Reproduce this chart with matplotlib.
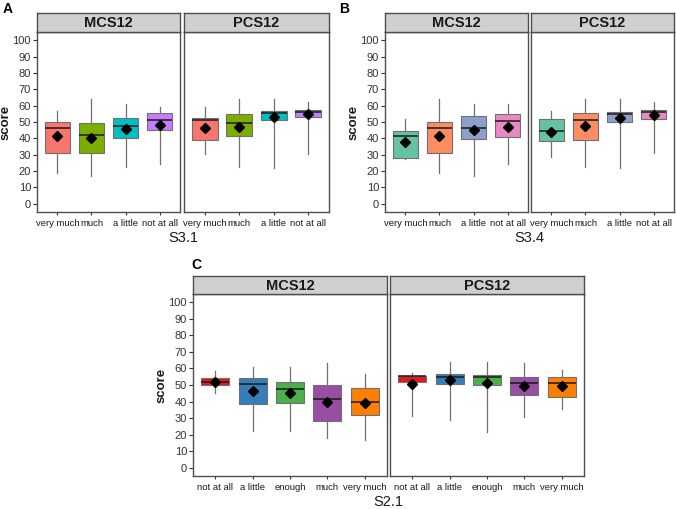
# LIBRARIES
import matplotlib
matplotlib.use("Agg")
import matplotlib.pyplot as plt

# FIGURE SIZE (pixels)
W, H = 676, 509

# DATA
# Panel A: S3.1
catsA = ["very much", "much", "a little", "not at all"]
colorsA = ["#F8766D", "#7CAE00", "#00BFC4", "#C77CFF"]
mcsA_lo = [18.7, 16.7, 22.2, 24.2]
mcsA_q1 = [30.9, 30.9, 40.0, 45.1]
mcsA_med = [46.5, 42.1, 47.8, 51.2]
mcsA_q3 = [50.2, 49.2, 52.6, 55.3]
mcsA_hi = [56.7, 64.0, 60.8, 59.3]
mcsA_mean = [41.7, 40.0, 45.5, 48.4]
pcsA_lo = [30.5, 22.8, 21.7, 30.5]
pcsA_q1 = [39.0, 41.7, 51.2, 53.3]
pcsA_med = [51.2, 49.2, 55.3, 56.3]
pcsA_q3 = [52.2, 54.9, 56.7, 57.3]
pcsA_hi = [59.0, 64.0, 64.0, 62.4]
pcsA_mean = [46.3, 47.2, 52.8, 54.9]

# Panel B: S3.4
catsB = ["very much", "much", "a little", "not at all"]
colorsB = ["#66C2A5", "#FC8D62", "#8DA0CB", "#E78AC3"]
mcsB_lo = [27.2, 18.7, 16.7, 24.4]
mcsB_q1 = [27.8, 31.3, 39.4, 41.1]
mcsB_med = [41.3, 46.5, 46.5, 50.8]
mcsB_q3 = [44.5, 50.2, 53.9, 54.9]
mcsB_hi = [51.8, 64.0, 60.8, 60.8]
mcsB_mean = [37.8, 41.3, 44.9, 47.2]
pcsB_lo = [28.5, 22.8, 21.7, 30.9]
pcsB_q1 = [38.2, 39.0, 49.8, 52.0]
pcsB_med = [44.3, 51.2, 54.9, 55.9]
pcsB_q3 = [51.6, 55.3, 56.3, 57.3]
pcsB_hi = [56.7, 64.0, 64.0, 62.4]
pcsB_mean = [43.9, 47.6, 52.2, 54.3]

# Panel C: S2.1
catsC = ["not at all", "a little", "enough", "much", "very much"]
colorsC = ["#E41A1C", "#377EB8", "#4DAF4A", "#984EA3", "#FF7F00"]
mcsC_lo = [45.3, 22.1, 22.1, 18.1, 16.7]
mcsC_q1 = [50.3, 38.6, 39.0, 28.4, 31.6]
mcsC_med = [51.9, 50.5, 47.5, 41.6, 39.8]
mcsC_q3 = [54.5, 54.3, 51.9, 50.1, 48.1]
mcsC_hi = [58.4, 61.0, 61.0, 63.4, 56.7]
mcsC_mean = [52.1, 46.1, 44.9, 40.0, 39.2]
pcsC_lo = [31.2, 29.0, 21.5, 30.8, 35.6]
pcsC_q1 = [52.1, 50.7, 49.9, 43.8, 42.6]
pcsC_med = [55.3, 55.1, 54.9, 51.3, 51.3]
pcsC_q3 = [55.7, 56.7, 56.1, 55.1, 54.9]
pcsC_hi = [57.0, 63.8, 63.8, 63.2, 58.8]
pcsC_mean = [50.9, 53.1, 51.3, 49.1, 49.1]

yTicks = list(range(0, 101, 10))
facets = ["MCS12", "PCS12"]

# STYLE
mainFont = ["Liberation Sans", "DejaVu Sans"]
borderColor = "#4D4D4D"

fig = plt.figure(figsize=(W / 100, H / 100), dpi=100)


# FUNCTIONS
# Convert pixel box to figure fraction
def rect(x0, y0, x1, y1):
    return [x0 / W, 1 - y1 / H, (x1 - x0) / W, (y1 - y0) / H]


# Build bxp stats list from the arrays
def makeStats(lo, q1, med, q3, hi, mean):
    return [dict(whislo=a, q1=b, med=c, q3=d, whishi=e, mean=f, fliers=[])
            for a, b, c, d, e, f in zip(lo, q1, med, q3, hi, mean)]


# Draw one facet
def facet(pix, stats, cats, colors, title, showY):
    ax = fig.add_axes(rect(*pix))
    pos = list(range(1, len(cats) + 1))
    parts = ax.bxp(stats, positions=pos, widths=0.75, patch_artist=True,
                   showmeans=True, showcaps=False, showfliers=False,
                   boxprops=dict(edgecolor="#707070", linewidth=0.8),
                   whiskerprops=dict(color="#707070", linewidth=0.9),
                   medianprops=dict(color="#1A1A1A", linewidth=1.1),
                   meanprops=dict(marker="D", markerfacecolor="black",
                                  markeredgecolor="black", markersize=4.8))
    for patch, c in zip(parts["boxes"], colors):
        patch.set_facecolor(c)
    # put whiskers behind boxes
    for w in parts["whiskers"]:
        w.set_zorder(0.5)
    ax.set_xlim(0.4, len(cats) + 0.6)
    ax.set_ylim(-5, 105)
    ax.set_xticks(pos)
    ax.set_xticklabels(cats, family=mainFont, fontsize=6.8, color="#1A1A1A")
    ax.set_yticks(yTicks)
    if showY:
        ax.set_yticklabels([str(t) for t in yTicks], family=mainFont,
                           fontsize=8, color="#333333")
        ax.tick_params(axis="y", length=2.8, color="#333333", pad=1.5)
    else:
        ax.tick_params(axis="y", length=0, labelleft=False)
    ax.tick_params(axis="x", length=2.5, color="#333333", pad=2.5)
    for s in ax.spines.values():
        s.set_color(borderColor)
        s.set_linewidth(1.0)
    # strip on top
    stripTop = pix[1] - (19 if pix[1] < 100 else 18)
    sax = fig.add_axes(rect(pix[0], stripTop, pix[2], pix[1]))
    sax.set_xticks([])
    sax.set_yticks([])
    sax.set_facecolor("#D0D0D0")
    for s in sax.spines.values():
        s.set_color(borderColor)
        s.set_linewidth(1.0)
    sax.text(0.5, 0.45, title, ha="center", va="center", family=mainFont,
             fontsize=10.5, fontweight="bold", color="#1A1A1A")
    return ax


# Draw one full panel (two facets)
def panel(letter, leftPix, rightPix, statsL, statsR, cats, colors, xlabel,
          letterXY, xlabelY):
    axL = facet(leftPix, statsL, cats, colors, facets[0], True)
    facet(rightPix, statsR, cats, colors, facets[1], False)
    axL.set_ylabel("score", family=mainFont, fontsize=9.5, fontweight="bold",
                   color="#1A1A1A", labelpad=0.5)
    midX = (leftPix[0] + rightPix[2]) / 2
    fig.text(midX / W, 1 - xlabelY / H, xlabel, ha="center", va="center",
             family=mainFont, fontsize=10.5, color="#1A1A1A")
    fig.text(letterXY[0] / W, 1 - letterXY[1] / H, letter, ha="left",
             va="center", family=mainFont, fontsize=10, fontweight="bold")


# * MAIN FUNCTION
def main():
    panel("A", (37, 32, 180, 212), (184, 32, 329, 212),
          makeStats(mcsA_lo, mcsA_q1, mcsA_med, mcsA_q3, mcsA_hi, mcsA_mean),
          makeStats(pcsA_lo, pcsA_q1, pcsA_med, pcsA_q3, pcsA_hi, pcsA_mean),
          catsA, colorsA, "S3.1", (3, 9), 238)
    panel("B", (385, 32, 528, 212), (531, 32, 674, 212),
          makeStats(mcsB_lo, mcsB_q1, mcsB_med, mcsB_q3, mcsB_hi, mcsB_mean),
          makeStats(pcsB_lo, pcsB_q1, pcsB_med, pcsB_q3, pcsB_hi, pcsB_mean),
          catsB, colorsB, "S3.4", (339, 9), 238)
    panel("C", (193, 294, 387, 476), (390, 294, 584, 476),
          makeStats(mcsC_lo, mcsC_q1, mcsC_med, mcsC_q3, mcsC_hi, mcsC_mean),
          makeStats(pcsC_lo, pcsC_q1, pcsC_med, pcsC_q3, pcsC_hi, pcsC_mean),
          catsC, colorsC, "S2.1", (191, 265), 502)
    fig.savefig("out.png", dpi=100)


# * RUN PROGRAM
if __name__ == "__main__":
    main()
